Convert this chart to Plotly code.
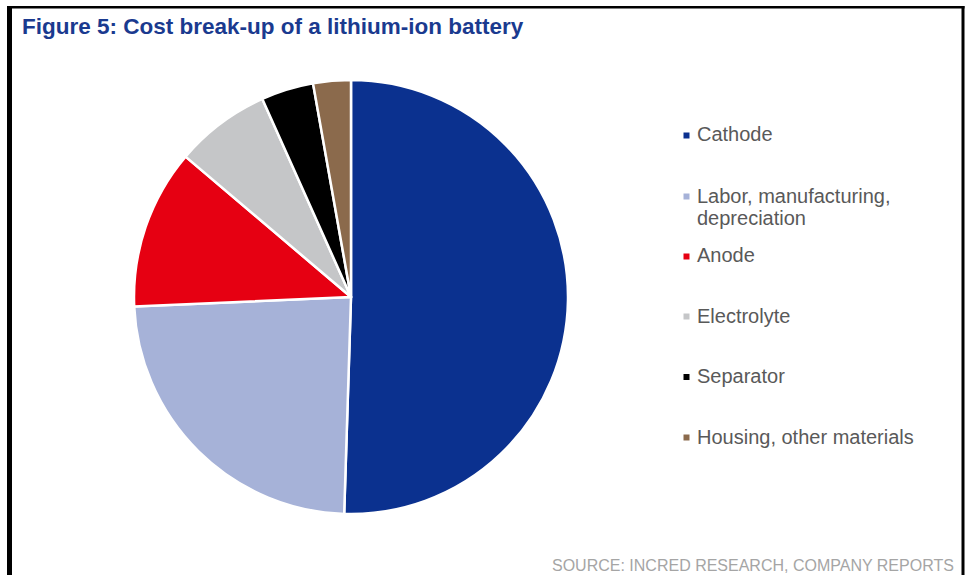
import plotly.graph_objects as go

W, H = 969, 575

labels = ["Cathode", "Labor, manufacturing, depreciation", "Anode", "Electrolyte", "Separator", "Housing, other materials"]
legend_lines = [["Cathode"], ["Labor, manufacturing,", "depreciation"], ["Anode"], ["Electrolyte"], ["Separator"], ["Housing, other materials"]]
values = [50.5, 23.8, 11.9, 7.1, 3.9, 2.8]
colors = ["#0B318F", "#A6B2D8", "#E60012", "#C5C6C8", "#000000", "#8B6A4C"]

title_text = "Figure 5: Cost break-up of a lithium-ion battery"
source_text = "SOURCE: INCRED RESEARCH, COMPANY REPORTS"

def px(x):
    return x / W

def py(y):
    return 1 - y / H

fig = go.Figure()
fig.add_trace(go.Pie(
    labels=labels,
    values=values,
    sort=False,
    direction="clockwise",
    rotation=0,
    textinfo="none",
    hoverinfo="label+percent",
    marker=dict(colors=colors, line=dict(color="white", width=2.5)),
    domain=dict(x=[px(134), px(568)], y=[py(514), py(80)]),
    showlegend=False,
))

shapes = []
# frame
shapes.append(dict(type="rect", xref="paper", yref="paper", x0=px(7), x1=px(12), y0=py(575), y1=py(6),
                   fillcolor="black", line=dict(width=0)))
shapes.append(dict(type="rect", xref="paper", yref="paper", x0=px(7), x1=px(964.5), y0=py(8.5), y1=py(6),
                   fillcolor="black", line=dict(width=0)))
shapes.append(dict(type="rect", xref="paper", yref="paper", x0=px(961.5), x1=px(964.5), y0=py(575), y1=py(6),
                   fillcolor="black", line=dict(width=0)))

annotations = []
legend_y = [135.5, 196.5, 256.5, 316.5, 377, 437.5]
for i, (lines, c) in enumerate(zip(legend_lines, colors)):
    yc = legend_y[i]
    shapes.append(dict(type="rect", xref="paper", yref="paper", x0=px(683.5), x1=px(689.5),
                       y0=py(yc + 3), y1=py(yc - 3), fillcolor=c, line=dict(width=0)))
    for j, line in enumerate(lines):
        annotations.append(dict(
            text=line, xref="paper", yref="paper", x=px(695), y=py(yc - 1 + 22 * j),
            xanchor="left", yanchor="middle", showarrow=False, align="left",
            font=dict(family="Liberation Sans, Arial", size=20, color="#595959"),
        ))

annotations.append(dict(
    text="<b>" + title_text + "</b>", xref="paper", yref="paper", x=px(20), y=py(26),
    xanchor="left", yanchor="middle", showarrow=False,
    font=dict(family="Liberation Sans, Arial", size=22.5, color="#1A3A8F"),
))
annotations.append(dict(
    text=source_text, xref="paper", yref="paper", x=px(956), y=py(565),
    xanchor="right", yanchor="middle", showarrow=False,
    font=dict(family="Liberation Sans, Arial", size=16, color="#A5A5A5"),
))

fig.update_layout(
    width=W, height=H,
    margin=dict(l=0, r=0, t=0, b=0),
    paper_bgcolor="white",
    plot_bgcolor="white",
    shapes=shapes,
    annotations=annotations,
)

fig.write_html("out.html", config={"displayModeBar": False},
               post_script="document.body.style.margin='0px';document.body.style.overflow='hidden';")
